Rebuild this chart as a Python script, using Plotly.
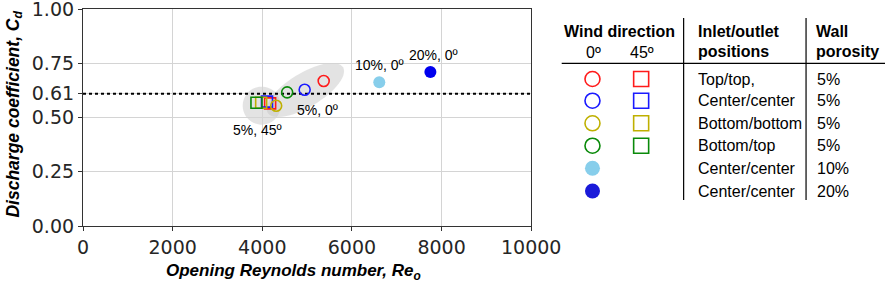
import numpy as np
import plotly.graph_objects as go

# ---- data ----
configs = ["Top/top,", "Center/center", "Bottom/bottom", "Bottom/top"]
colors = ["#ff1a1a", "#1a1aff", "#bfb000", "#0a8a0a"]
re_0deg = [5370, 4945, 4310, 4555]
cd_0deg = [0.668, 0.628, 0.554, 0.616]
re_45deg = [4175, 4105, 3975, 3870]
cd_45deg = [0.565, 0.573, 0.568, 0.568]
re_10 = [6610]
cd_10 = [0.662]
re_20 = [7750]
cd_20 = [0.710]
porosity = ["5%", "5%", "5%", "5%", "10%", "20%"]
positions = configs + ["Center/center", "Center/center"]
cd_ref = 0.61
xticks = [0, 2000, 4000, 6000, 8000, 10000]
yticks = [0.00, 0.25, 0.50, 0.61, 0.75, 1.00]

W, H = 886, 284
L, R, T, B = 82.5, 531, 9, 226  # plot area pixel bounds
XMAX, YMAX = 10000, 1.0

def px2x(px):
    return (px - L) / (R - L) * XMAX

def py2y(py):
    return (B - py) / (B - T) * YMAX

def x2px(x):
    return L + x / XMAX * (R - L)

def y2py(y):
    return B - y / YMAX * (B - T)

fig = go.Figure()

# gray ellipses around clusters (built in pixel space from data centroids)
def ellipse_path(cx, cy, rx, ry, ang_deg, n=60):
    t = np.linspace(0, 2 * np.pi, n)
    a = np.deg2rad(ang_deg)
    px = cx + rx * np.cos(t) * np.cos(a) - ry * np.sin(t) * np.sin(a)
    py = cy + rx * np.cos(t) * np.sin(a) + ry * np.sin(t) * np.cos(a)
    pts = [f"{px2x(u):.2f},{py2y(v):.4f}" for u, v in zip(px, py)]
    return "M " + " L ".join(pts) + " Z"

c45x = np.mean([x2px(v) for v in re_45deg]) - 2
c45y = np.mean([y2py(v) for v in cd_45deg]) + 3
fig.add_shape(type="path", path=ellipse_path(c45x, c45y, 19, 19, 0),
              xref="x", yref="y", fillcolor="rgba(200,200,200,0.5)", line_width=0, layer="below")
fig.add_shape(type="path", path=ellipse_path(305, 90, 44, 17, -31),
              xref="x", yref="y", fillcolor="rgba(200,200,200,0.5)", line_width=0, layer="below")

# reference line
fig.add_trace(go.Scatter(x=[0, XMAX], y=[cd_ref, cd_ref], mode="lines",
                         line=dict(color="black", width=2, dash="dot"),
                         showlegend=False, hoverinfo="skip"))

for i in range(4):
    fig.add_trace(go.Scatter(x=[re_45deg[i]], y=[cd_45deg[i]], mode="markers",
                             marker=dict(symbol="square-open", size=11, color=colors[i],
                                         line=dict(width=1.6, color=colors[i])),
                             showlegend=False))
for i in range(4):
    fig.add_trace(go.Scatter(x=[re_0deg[i]], y=[cd_0deg[i]], mode="markers",
                             marker=dict(symbol="circle-open", size=11, color=colors[i],
                                         line=dict(width=1.6, color=colors[i])),
                             showlegend=False))
fig.add_trace(go.Scatter(x=re_10, y=cd_10, mode="markers",
                         marker=dict(symbol="circle", size=12, color="#87ceeb"), showlegend=False))
fig.add_trace(go.Scatter(x=re_20, y=cd_20, mode="markers",
                         marker=dict(symbol="circle", size=12, color="#0000ee"), showlegend=False))

ann_font = dict(family="Liberation Sans, Arial", size=14, color="black")
labels = [("10%, 0º", 379, 65), ("20%, 0º", 433, 55), ("5%, 0º", 317.5, 110), ("5%, 45º", 257.5, 130)]
for txt, px, py in labels:
    fig.add_annotation(x=px2x(px), y=py2y(py), text=txt, showarrow=False, font=ann_font,
                       xref="x", yref="y", xanchor="center", yanchor="middle")

# axis titles
fig.add_annotation(xref="paper", yref="paper", x=(293 - L) / (W - L), y=(B - 272) / (B - T),
                   text="<b><i>Opening Reynolds number, Re<sub>o</sub></i></b>", showarrow=False,
                   font=dict(family="Liberation Sans, Arial", size=17, color="black"),
                   xanchor="center", yanchor="middle")
fig.add_annotation(xref="paper", yref="paper", x=(13 - L) / (W - L), y=(B - 114) / (B - T),
                   text="<b><i>Discharge coefficient, C<sub>d</sub></i></b>", showarrow=False,
                   textangle=-90,
                   font=dict(family="Liberation Sans, Arial", size=17.5, color="black"),
                   xanchor="center", yanchor="middle")

# ---- table-legend on second axis (pixel coordinates) ----
tfont = dict(family="Liberation Sans, Arial", size=16, color="black")
row_y = [79, 100.7, 123.3, 145.7, 168.3, 191]
col_circ, col_sq, col_pos, col_por = 592.3, 641, 695.5, 815
vline1, vline2 = 683.5, 806

for i in range(4):
    fig.add_trace(go.Scatter(x=[col_circ], y=[row_y[i]], xaxis="x2", yaxis="y2", mode="markers",
                             marker=dict(symbol="circle-open", size=15, color=colors[i],
                                         line=dict(width=1.6, color=colors[i])), showlegend=False))
    fig.add_trace(go.Scatter(x=[col_sq], y=[row_y[i]], xaxis="x2", yaxis="y2", mode="markers",
                             marker=dict(symbol="square-open", size=15, color=colors[i],
                                         line=dict(width=1.6, color=colors[i])), showlegend=False))
fig.add_trace(go.Scatter(x=[col_circ], y=[row_y[4]], xaxis="x2", yaxis="y2", mode="markers",
                         marker=dict(symbol="circle", size=15, color="#87ceeb"), showlegend=False))
fig.add_trace(go.Scatter(x=[col_circ], y=[row_y[5]], xaxis="x2", yaxis="y2", mode="markers",
                         marker=dict(symbol="circle", size=15, color="#1a1ad9"), showlegend=False))

for i in range(6):
    fig.add_annotation(x=col_pos, y=row_y[i], xref="x2", yref="y2", text=positions[i],
                       showarrow=False, font=tfont, xanchor="left", yanchor="middle")
    fig.add_annotation(x=col_por, y=row_y[i], xref="x2", yref="y2", text=porosity[i],
                       showarrow=False, font=tfont, xanchor="left", yanchor="middle")

hdr = [("<b>Wind direction</b>", 619.5, 31, "center"),
       ("0º", 593, 52, "center"), ("45º", 642, 52, "center"),
       ("<b>Inlet/outlet</b>", 695.5, 31, "left"), ("<b>positions</b>", 695.5, 51, "left"),
       ("<b>Wall</b>", 813.5, 31, "left"), ("<b>porosity</b>", 813.5, 51, "left")]
for txt, px, py, anc in hdr:
    fig.add_annotation(x=px, y=py, xref="x2", yref="y2", text=txt, showarrow=False,
                       font=tfont, xanchor=anc, yanchor="middle")

fig.add_shape(type="line", x0=561.5, x1=885, y0=63.3, y1=63.3, xref="x2", yref="y2",
              line=dict(color="black", width=1.2))
for vx in (vline1, vline2):
    fig.add_shape(type="line", x0=vx, x1=vx, y0=18, y1=200, xref="x2", yref="y2",
                  line=dict(color="black", width=1.2))

dom = (R - L) / (W - L)
tickfont = dict(family="DejaVu Sans", size=19, color="#262626")
fig.update_layout(
    width=W, height=H, margin=dict(l=L, r=0, t=T, b=H - B, autoexpand=False),
    plot_bgcolor="white", paper_bgcolor="white",
    xaxis=dict(domain=[0, dom], range=[0, XMAX], tickvals=xticks, automargin=False,
               ticktext=[str(v) for v in xticks], tickfont=tickfont, ticklabeloverflow="allow",
               showgrid=True, gridcolor="#d4d4d4", gridwidth=1, zeroline=False,
               showline=True, linecolor="#333333", linewidth=1.2, mirror=True,
               ticks="outside", ticklen=4, tickcolor="#333333"),
    yaxis=dict(range=[0, YMAX], tickvals=yticks, ticktext=[f"{v:.2f}" for v in yticks],
               automargin=False, ticklabeloverflow="allow",
               tickfont=tickfont, showgrid=True, gridcolor="#d4d4d4", gridwidth=1, zeroline=False,
               showline=True, linecolor="#333333", linewidth=1.2, mirror=True,
               ticks="outside", ticklen=4, tickcolor="#333333"),
    xaxis2=dict(domain=[dom, 1], range=[R, W], visible=False, anchor="y2", automargin=False),
    yaxis2=dict(domain=[0, 1], range=[B, T], visible=False, anchor="x2", automargin=False),
)

fig.write_html("out.html", config={"displayModeBar": False},
               post_script="document.body.style.margin='0';document.body.style.padding='0';")
